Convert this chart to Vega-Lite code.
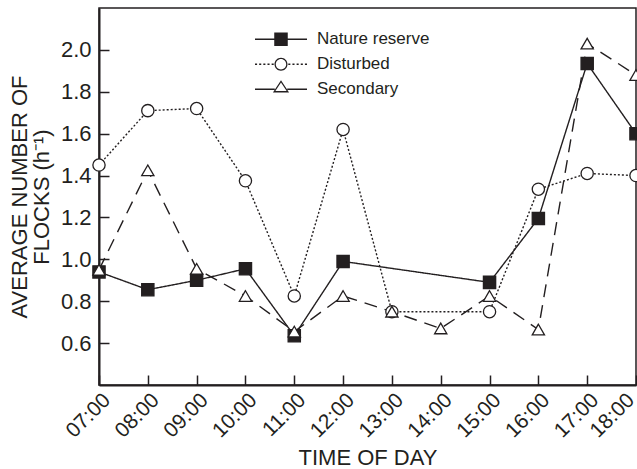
{
  "$schema": "https://vega.github.io/schema/vega-lite/v6.json",
  "width": 537,
  "height": 377,
  "autosize": {"type": "none"},
  "padding": {"left": 99, "top": 8, "right": 1, "bottom": 84},
  "background": "white",
  "config": {
    "font": "Liberation Sans",
    "view": {"stroke": "#231f20", "strokeWidth": 1.5}
  },
  "data": {
    "values": [
      {"site": "Nature reserve", "hour": 7, "value": 0.94},
      {"site": "Nature reserve", "hour": 8, "value": 0.855},
      {"site": "Nature reserve", "hour": 9, "value": 0.9},
      {"site": "Nature reserve", "hour": 10, "value": 0.955},
      {"site": "Nature reserve", "hour": 11, "value": 0.635},
      {"site": "Nature reserve", "hour": 12, "value": 0.99},
      {"site": "Nature reserve", "hour": 15, "value": 0.89},
      {"site": "Nature reserve", "hour": 16, "value": 1.195},
      {"site": "Nature reserve", "hour": 17, "value": 1.935},
      {"site": "Nature reserve", "hour": 18, "value": 1.6},
      {"site": "Disturbed", "hour": 7, "value": 1.45},
      {"site": "Disturbed", "hour": 8, "value": 1.71},
      {"site": "Disturbed", "hour": 9, "value": 1.72},
      {"site": "Disturbed", "hour": 10, "value": 1.375},
      {"site": "Disturbed", "hour": 11, "value": 0.825},
      {"site": "Disturbed", "hour": 12, "value": 1.62},
      {"site": "Disturbed", "hour": 13, "value": 0.75},
      {"site": "Disturbed", "hour": 15, "value": 0.75},
      {"site": "Disturbed", "hour": 16, "value": 1.335},
      {"site": "Disturbed", "hour": 17, "value": 1.41},
      {"site": "Disturbed", "hour": 18, "value": 1.4},
      {"site": "Secondary", "hour": 7, "value": 0.95},
      {"site": "Secondary", "hour": 8, "value": 1.425},
      {"site": "Secondary", "hour": 9, "value": 0.955},
      {"site": "Secondary", "hour": 10, "value": 0.825},
      {"site": "Secondary", "hour": 11, "value": 0.655},
      {"site": "Secondary", "hour": 12, "value": 0.825},
      {"site": "Secondary", "hour": 13, "value": 0.75},
      {"site": "Secondary", "hour": 14, "value": 0.67},
      {"site": "Secondary", "hour": 15, "value": 0.825},
      {"site": "Secondary", "hour": 16, "value": 0.665},
      {"site": "Secondary", "hour": 17, "value": 2.03},
      {"site": "Secondary", "hour": 18, "value": 1.88}
    ]
  },
  "encoding": {
    "x": {
      "field": "hour",
      "type": "quantitative",
      "scale": {"domain": [7, 18], "nice": false, "zero": false},
      "axis": {
        "values": [7, 8, 9, 10, 11, 12, 13, 14, 15, 16, 17, 18],
        "labelExpr": "(datum.value < 10 ? '0' : '') + datum.value + ':00'",
        "labelAngle": -45,
        "labelFont": "Liberation Sans",
        "labelFontSize": 21,
        "labelColor": "#231f20",
        "labelPadding": 14,
        "labelOffset": {"condition": {"test": "datum.value === 18", "value": -13}, "value": 0},
        "labelOverlap": false,
        "labelBound": false,
        "labelFlush": false,
        "tickSize": -10,
        "tickColor": "#231f20",
        "tickWidth": 1.5,
        "domainColor": "#231f20",
        "domainWidth": 2,
        "grid": false,
        "title": "TIME OF DAY",
        "titleFont": "Liberation Sans",
        "titleFontSize": 22,
        "titleFontWeight": "normal",
        "titleColor": "#231f20",
        "titlePadding": 6
      }
    },
    "y": {
      "field": "value",
      "type": "quantitative",
      "scale": {"domain": [0.4, 2.2], "nice": false, "zero": false},
      "axis": {
        "values": [0.6, 0.8, 1.0, 1.2, 1.4, 1.6, 1.8, 2.0],
        "format": ".1f",
        "labelFont": "Liberation Sans",
        "labelFontSize": 22,
        "labelColor": "#231f20",
        "labelPadding": 18,
        "tickSize": -10,
        "tickColor": "#231f20",
        "tickWidth": 1.5,
        "domainColor": "#231f20",
        "domainWidth": 2,
        "grid": false,
        "title": ["AVERAGE NUMBER OF", "FLOCKS (h⁻¹)"],
        "titleFont": "Liberation Sans",
        "titleFontSize": 22,
        "titleFontWeight": "normal",
        "titleColor": "#231f20",
        "titleLineHeight": 22,
        "titlePadding": 7
      }
    }
  },
  "layer": [
    {
      "mark": {"type": "line", "color": "#231f20", "strokeWidth": 1.4},
      "encoding": {
        "detail": {"field": "site", "type": "nominal"},
        "strokeDash": {
          "condition": [
            {"test": "datum.site === 'Disturbed'", "value": [2, 2]},
            {"test": "datum.site === 'Secondary'", "value": [13, 8]}
          ],
          "value": [1, 0]
        }
      }
    },
    {
      "mark": {"type": "point", "filled": true, "stroke": "#231f20", "strokeWidth": 1.3, "opacity": 1, "size": 150},
      "encoding": {
        "fill": {
          "condition": {"test": "datum.site === 'Nature reserve'", "value": "#231f20"},
          "value": "white"
        },
        "shape": {
          "condition": [
            {"test": "datum.site === 'Nature reserve'", "value": "square"},
            {"test": "datum.site === 'Disturbed'", "value": "circle"}
          ],
          "value": "triangle-up"
        }
      }
    },
    {
      "mark": {"type": "point", "filled": true, "fill": "#231f20", "opacity": 0, "size": 10},
      "encoding": {
        "shape": {
          "field": "site",
          "type": "nominal",
          "scale": {
            "domain": ["Nature reserve", "Disturbed", "Secondary"],
            "range": [
              "M-1,-0.362H-0.26V-0.308H-1ZM0.26,-0.362H1V-0.308H0.26ZM-0.26,-0.595H0.26V-0.075H-0.26Z",
              "M-1,-0.362h0.08v0.054h-0.08ZM-0.84,-0.362h0.08v0.054h-0.08ZM-0.68,-0.362h0.08v0.054h-0.08ZM-0.52,-0.362h0.08v0.054h-0.08ZM-0.36,-0.362h0.08v0.054h-0.08ZM0.28,-0.362h0.08v0.054h-0.08ZM0.44,-0.362h0.08v0.054h-0.08ZM0.6,-0.362h0.08v0.054h-0.08ZM0.76,-0.362h0.08v0.054h-0.08ZM0.92,-0.362h0.08v0.054h-0.08ZM0.25,-0.335C0.25,-0.197,0.138,-0.085,0,-0.085C-0.138,-0.085,-0.25,-0.197,-0.25,-0.335C-0.25,-0.473,-0.138,-0.585,0,-0.585C0.138,-0.585,0.25,-0.473,0.25,-0.335ZM0.2,-0.335C0.2,-0.445,0.11,-0.535,0,-0.535C-0.11,-0.535,-0.2,-0.445,-0.2,-0.335C-0.2,-0.225,-0.11,-0.135,0,-0.135C0.11,-0.135,0.2,-0.225,0.2,-0.335Z",
              "M-1,-0.362H-0.24V-0.308H-1ZM0.24,-0.362H1V-0.308H0.24ZM0,-0.685L0.31,-0.215L-0.31,-0.215ZM0,-0.594L-0.217,-0.265L0.217,-0.265Z"
            ]
          },
          "legend": {
            "title": null,
            "orient": "none",
            "legendX": 156,
            "legendY": 14,
            "labelFont": "Liberation Sans",
            "labelFontSize": 17,
            "labelColor": "#231f20",
            "labelOffset": 10,
            "labelBaseline": "bottom",
            "symbolSize": 2704,
            "symbolFillColor": "#231f20",
            "symbolStrokeWidth": 0,
            "symbolOpacity": 1,
            "rowPadding": -60,
            "padding": 0
          }
        }
      }
    }
  ]
}
